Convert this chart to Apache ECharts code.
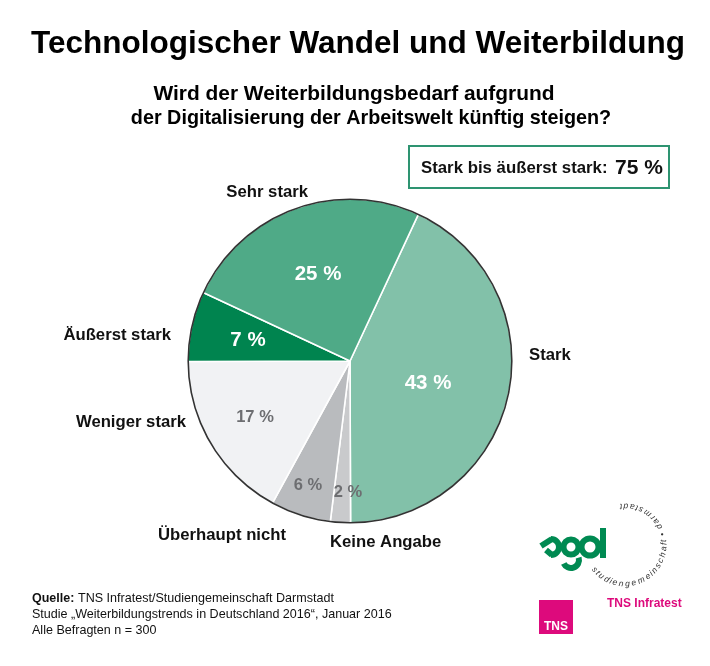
<!DOCTYPE html>
<html><head><meta charset="utf-8">
<style>html,body{margin:0;padding:0;background:#fff}#c{width:710px;height:666px}</style>
<script src="https://cdn.jsdelivr.net/npm/echarts@6/dist/echarts.min.js"></script>
</head><body><div id="c"></div>
<script>
const categories = ['Stark','Keine Angabe','Überhaupt nicht','Weniger stark','Äußerst stark','Sehr stark'];
const values = [43,2,6,17,7,25];
const sliceColors = ['#82C1A9','#C9CACC','#B9BBBE','#F1F2F4','#00844F','#4FAA87'];
const valueTextColors = ['#fff','#6D6E71','#6D6E71','#6D6E71','#fff','#fff'];
const valueFontSizes = [20.5,16.5,16.5,16.5,20.5,20.5];
const valueLabelCentres = [[428,383],[348,492],[308,485],[255,417],[248,340],[318,274]];
const nameLabelAnchors = [[529,355,'left'],[330,542,'left'],[286,535,'right'],[186,422,'right'],[171,335,'right'],[308,192,'right']];
const ringText = 'studiengemeinschaft • darmstadt';
const FONT = '"Liberation Sans", Arial, sans-serif';
const GREEN = '#008A52', PINK = '#DD0A7C';

const ringFont = 'italic 8.5px ' + FONT;
const measureCtx = document.createElement('canvas').getContext('2d');
measureCtx.font = ringFont;
const ringLetters = Array.from(ringText);
const ringWidths = ringLetters.map(ch => measureCtx.measureText(ch).width);
const ringTotal = ringWidths.reduce((a,b)=>a+b,0);
let ringRun = 0;
const ringChars = ringLetters.map((ch,i)=>{
  const t = 145 - (ringRun + ringWidths[i]/2)/ringTotal*243, rad = t*Math.PI/180;
  ringRun += ringWidths[i];
  return {type:'text',x:625+39*Math.cos(rad),y:545+39*Math.sin(rad),
    rotation:-(t-90)*Math.PI/180,silent:true,
    style:{text:ch,fill:'#333',font:ringFont,align:'center',verticalAlign:'middle'}};
});
const logoLine = {fill:'none',stroke:GREEN,lineWidth:6};

const chart = echarts.init(document.getElementById('c'),null,{renderer:'canvas'});
chart.setOption({
  animation:false,
  backgroundColor:'#fff',
  series:[
    {type:'pie',center:[350,361],radius:[161,162.6],silent:true,z:5,label:{show:false},labelLine:{show:false},
      data:[{value:1,itemStyle:{color:'#333'}}]},
    {type:'pie',center:[350,361],radius:[0,162],startAngle:65,clockwise:true,silent:true,z:3,avoidLabelOverlap:false,
      data:categories.map((n,i)=>({name:n,value:values[i],itemStyle:{color:sliceColors[i],borderColor:'#fff',borderWidth:1.6},
        label:{color:valueTextColors[i],fontSize:valueFontSizes[i]}})),
      label:{show:true,position:'inside',formatter:p=>p.value+' %',fontFamily:FONT,fontWeight:'bold'},
      labelLine:{show:false},
      labelLayout:p=>{const c=valueLabelCentres[p.dataIndex];return {x:c[0],y:c[1],align:'center',verticalAlign:'middle'};}},
    {type:'pie',center:[350,361],radius:[0,162],startAngle:65,silent:true,z:4,avoidLabelOverlap:false,
      data:categories.map((n,i)=>({name:n,value:values[i],itemStyle:{color:'transparent'}})),
      label:{show:true,position:'outside',formatter:'{b}',fontFamily:FONT,fontWeight:'bold',fontSize:16.7,color:'#111'},
      labelLine:{show:false},
      labelLayout:p=>{const c=nameLabelAnchors[p.dataIndex];return {x:c[0],y:c[1],align:c[2],verticalAlign:'middle'};}}
  ],
  graphic:[
    {type:'text',x:358,y:44,style:{text:'Technologischer Wandel und Weiterbildung',font:'bold 31.5px '+FONT,fill:'#000',align:'center',verticalAlign:'middle'}},
    {type:'text',x:354,y:94,style:{text:'Wird der Weiterbildungsbedarf aufgrund',font:'bold 20.9px '+FONT,fill:'#000',align:'center',verticalAlign:'middle'}},
    {type:'text',x:371,y:119,style:{text:'der Digitalisierung der Arbeitswelt künftig steigen?',font:'bold 19.8px '+FONT,fill:'#000',align:'center',verticalAlign:'middle'}},
    {type:'rect',shape:{x:409,y:146,width:260,height:42},style:{fill:'#fff',stroke:'#2E9471',lineWidth:2}},
    {type:'text',x:421,y:168,style:{text:'Stark bis äußerst stark:',font:'bold 16.8px '+FONT,fill:'#111',align:'left',verticalAlign:'middle'}},
    {type:'text',x:615,y:168,style:{text:'75 %',font:'bold 21px '+FONT,fill:'#111',align:'left',verticalAlign:'middle'}},
    {type:'text',x:32,y:599,style:{text:'Quelle:',font:'bold 12.5px '+FONT,fill:'#111',align:'left',verticalAlign:'middle'}},
    {type:'text',x:78,y:599,style:{text:'TNS Infratest/Studiengemeinschaft Darmstadt',font:'12.55px '+FONT,fill:'#111',align:'left',verticalAlign:'middle'}},
    {type:'text',x:32,y:615,style:{text:'Studie „Weiterbildungstrends in Deutschland 2016“, Januar 2016',font:'12.55px '+FONT,fill:'#111',align:'left',verticalAlign:'middle'}},
    {type:'text',x:32,y:631,style:{text:'Alle Befragten n = 300',font:'12.55px '+FONT,fill:'#111',align:'left',verticalAlign:'middle'}},
    {type:'rect',shape:{x:539,y:600,width:34,height:34},style:{fill:PINK}},
    {type:'text',x:556,y:627,style:{text:'TNS',font:'bold 12px '+FONT,fill:'#fff',align:'center',verticalAlign:'middle'}},
    {type:'text',x:607,y:604,style:{text:'TNS Infratest',font:'bold 12px '+FONT,fill:PINK,align:'left',verticalAlign:'middle'}},
    {type:'arc',shape:{cx:551,cy:547,r:8,startAngle:-Math.PI/2,endAngle:Math.PI/2,clockwise:true},style:logoLine},
    {type:'line',shape:{x1:552,y1:539,x2:541,y2:546},style:logoLine},
    {type:'line',shape:{x1:552,y1:555,x2:546,y2:550},style:logoLine},
    {type:'circle',shape:{cx:571,cy:547,r:7.5},style:logoLine},
    {type:'arc',shape:{cx:571,cy:560,r:8,startAngle:-0.3,endAngle:2.7,clockwise:true},style:logoLine},
    {type:'circle',shape:{cx:590,cy:547,r:8.5},style:logoLine},
    {type:'line',shape:{x1:603,y1:528,x2:603,y2:558},style:logoLine},
    ...ringChars
  ]
});
</script></body></html>
